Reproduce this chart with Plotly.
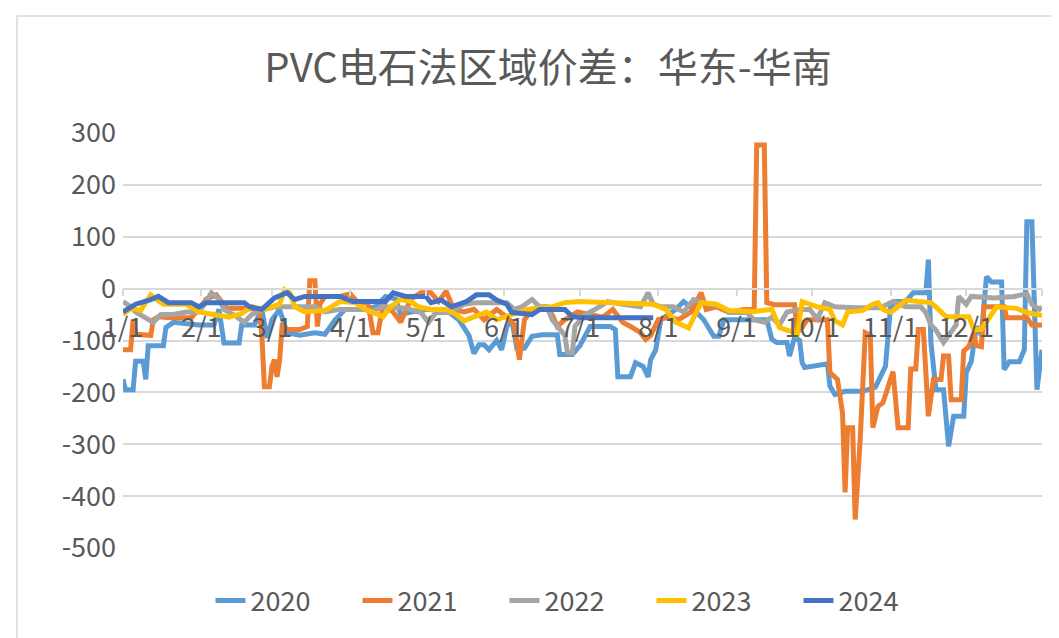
import datetime as dt
import plotly.graph_objects as go

# ---------------- data (day offset from Jan 1, value) ----------------
days_2020 = [0,1,4,5,8,9,10,16,17,20,30,36,38,40,46,47,52,55,57,59,62,65,70,76,80,84,88,96,100,104,108,110,114,121,129,133,137,139,141,143,145,148,150,152,154,156,159,162,166,172,173,178,181,185,193,195,196,201,203,206,208,209,211,213,219,222,226,230,234,236,238,255,257,259,263,264,266,268,269,270,279,280,282,286,293,298,302,304,306,310,313,318,319,320,322,325,327,329,333,334,336,338,340,342,344,348,349,351,355,357,358,360,362,364]
vals_2020 = [-175,-195,-195,-140,-140,-175,-110,-110,-75,-65,-70,-70,-40,-105,-105,-70,-70,-40,-95,-60,-40,-85,-90,-85,-88,-60,-40,-40,-35,-15,-20,-50,-45,-40,-45,-60,-90,-125,-108,-108,-118,-100,-118,-73,-60,-115,-115,-92,-89,-89,-127,-127,-110,-73,-73,-79,-170,-170,-143,-150,-170,-137,-118,-60,-40,-25,-40,-60,-92,-92,-60,-60,-98,-104,-104,-130,-94,-100,-143,-152,-145,-188,-204,-198,-198,-190,-150,-35,-25,-25,-8,-8,56,-104,-195,-195,-304,-246,-246,-162,-140,-73,-90,23,13,13,-156,-141,-141,-118,129,129,-195,-118]

days_2021 = [0,3,4,5,11,12,14,19,27,30,33,37,39,41,48,54,55,56,58,59,60,61,62,63,65,70,73,74,76,77,78,80,86,90,93,97,99,101,103,107,110,114,118,122,125,128,131,135,139,143,148,152,155,157,159,162,167,170,172,175,180,185,190,194,198,201,205,207,209,212,216,220,225,229,231,235,240,246,250,251,254,255,258,266,267,269,271,279,280,283,285,286,287,289,290,292,294,296,297,299,301,305,307,311,312,314,315,317,319,321,324,325,327,328,332,333,335,337,338,340,341,349,350,358,360,364]
vals_2021 = [-118,-118,-60,-88,-90,-60,-54,-56,-56,-40,-20,-12,-25,-38,-38,-40,-90,-189,-189,-150,-137,-170,-140,-73,-79,-79,-73,15,15,-73,-30,-15,-15,-10,-27,-27,-85,-85,-30,-45,-65,-20,-8,-8,-25,-5,-40,-45,-40,-60,-40,-55,-70,-137,-60,-40,-35,-50,-73,-60,-45,-50,-55,-40,-65,-73,-85,-98,-90,-60,-55,-60,-45,-8,-40,-35,-46,-40,-40,277,277,-27,-31,-31,-85,-75,-60,-60,-162,-175,-240,-393,-268,-268,-445,-290,-85,-90,-268,-227,-220,-160,-268,-268,-155,-155,-79,-79,-246,-175,-175,-130,-130,-214,-214,-120,-112,-85,-110,-112,-35,-35,-56,-56,-70,-70]

days_2022 = [0,3,5,8,12,15,20,25,30,33,35,38,40,45,48,51,56,60,65,70,76,80,86,96,98,103,112,118,121,124,130,135,140,152,155,158,162,165,168,170,175,176,178,179,183,187,192,198,205,208,210,213,218,222,226,232,237,240,247,250,254,257,260,263,268,272,275,278,282,290,300,305,310,316,318,320,322,325,327,330,331,334,336,345,353,358,360,363,364]
vals_2022 = [-25,-35,-45,-54,-65,-50,-50,-45,-45,-25,-8,-20,-40,-54,-65,-50,-40,-35,-35,-35,-35,-45,-40,-40,-45,-35,-38,-46,-65,-46,-46,-30,-27,-27,-40,-35,-21,-35,-35,-60,-90,-123,-123,-73,-50,-40,-25,-30,-35,-8,-30,-35,-35,-45,-21,-30,-35,-46,-46,-60,-65,-55,-70,-45,-40,-40,-58,-27,-35,-37,-37,-25,-35,-35,-46,-70,-80,-104,-90,-70,-15,-30,-15,-18,-15,-10,-30,-40,-35]

days_2023 = [0,3,7,11,13,16,25,30,36,42,47,51,56,62,64,66,68,72,80,86,92,96,103,106,110,114,117,122,128,132,135,139,144,148,152,160,170,175,181,190,200,210,215,219,224,229,235,240,250,257,260,266,267,269,275,280,282,285,287,293,297,299,301,304,307,310,315,320,323,326,335,337,340,342,346,354,358,364]
vals_2023 = [-50,-38,-42,-12,-20,-30,-30,-45,-50,-55,-48,-35,-40,-30,-2,-8,-35,-45,-42,-25,-27,-40,-54,-35,-21,-25,-35,-40,-40,-50,-62,-55,-45,-60,-54,-40,-35,-27,-25,-27,-30,-30,-40,-65,-76,-27,-30,-42,-44,-40,-75,-85,-92,-25,-35,-40,-62,-70,-45,-42,-30,-27,-40,-46,-35,-22,-25,-27,-40,-54,-54,-79,-79,-65,-35,-38,-46,-52]

days_2024 = [0,5,11,14,18,27,30,33,48,50,55,58,60,65,68,72,80,86,91,104,107,112,120,122,126,130,136,140,145,148,152,154,162,165,170,175,178,182,195,205,210]
vals_2024 = [-45,-30,-21,-15,-27,-27,-35,-27,-27,-35,-40,-27,-18,-8,-21,-15,-15,-15,-25,-25,-8,-15,-15,-27,-22,-35,-25,-12,-12,-22,-30,-46,-50,-40,-40,-40,-54,-56,-56,-56,-56]

series_names = ["2020", "2021", "2022", "2023", "2024"]
series_days = [days_2020, days_2021, days_2022, days_2023, days_2024]
series_vals = [vals_2020, vals_2021, vals_2022, vals_2023, vals_2024]
colors = ["#5B9BD5", "#ED7D31", "#A5A5A5", "#FFC000", "#4472C4"]

month_labels = ["1/1", "2/1", "3/1", "4/1", "5/1", "6/1", "7/1", "8/1", "9/1", "10/1", "11/1", "12/1"]
y_ticks = [300, 200, 100, 0, -100, -200, -300, -400, -500]

title_text = "PVC电石法区域价差：华东-华南"

# ---------------- figure ----------------
OFF = 8  # page body margin
W, H = 1059 - OFF, 638 - OFF
L, R, T, B = 123 - OFF, 1042 - OFF, 133 - OFF, 548 - OFF  # plot area in figure px
base = dt.date(2021, 1, 1)

def to_dates(ds):
    return [base + dt.timedelta(days=int(d)) for d in ds]

FONT = "Noto Sans CJK SC"
GRAY_TXT = "#595959"
GRID = "#D9D9D9"
FS = 27

fig = go.Figure()
for name, ds, vs, c in zip(series_names, series_days, series_vals, colors):
    fig.add_trace(go.Scatter(
        x=to_dates(ds), y=vs, name=name, mode="lines",
        line=dict(color=c, width=5),
    ))

tickvals = [dt.date(2021, m, 1) for m in range(1, 13)] + [dt.date(2021, 12, 31)]
ticktext = month_labels + [""]

ymin, ymax = -500, 300
zero_pos = (0 - ymin) / (ymax - ymin)

def px_x(p):  # screen px -> paper
    return (p - OFF - L) / (R - L)

def px_y(p):
    return (B - (p - OFF)) / (B - T)

fig.update_layout(
    width=W, height=H,
    paper_bgcolor="white", plot_bgcolor="white",
    margin=dict(l=L, r=W - R, t=T, b=H - B, autoexpand=False),
    font=dict(family=FONT, color=GRAY_TXT),
    title=dict(text=title_text, x=(548 - OFF) / W, xanchor="center",
               y=1 - (68 - OFF) / H, yanchor="middle",
               font=dict(family=FONT, size=40, color=GRAY_TXT)),
    xaxis=dict(
        type="date", range=[dt.date(2021, 1, 1), dt.date(2021, 12, 31)],
        tickvals=tickvals, ticktext=ticktext, tickangle=0,
        anchor="free", position=zero_pos,
        showline=True, linecolor=GRID, linewidth=1.5,
        ticks="outside", ticklen=7, tickcolor=GRID, tickwidth=1.5,
        ticklabelstandoff=8,
        showgrid=False, zeroline=False,
        tickfont=dict(family=FONT, size=FS, color=GRAY_TXT),
    ),
    yaxis=dict(
        range=[ymin, ymax], tickvals=y_ticks, ticktext=[str(v) for v in y_ticks],
        showgrid=True, gridcolor=GRID, gridwidth=1.5,
        zeroline=False, showline=False, ticks="",
        tickfont=dict(family=FONT, size=FS, color=GRAY_TXT),
        ticklabelstandoff=6,
    ),
    legend=dict(
        orientation="h", xref="container", x=(578 - OFF) / W, xanchor="center",
        yref="container", y=1 - (601 - OFF) / H, yanchor="middle",
        font=dict(family=FONT, size=FS, color=GRAY_TXT),
        bgcolor="rgba(0,0,0,0)",
        entrywidth=102, entrywidthmode="pixels",
    ),
    showlegend=True,
)

# chart frame and top black rule
fig.add_shape(type="rect", xref="paper", yref="paper",
              x0=px_x(17), y0=px_y(700), x1=px_x(1100), y1=px_y(16),
              line=dict(color=GRID, width=1.5), fillcolor="rgba(0,0,0,0)", layer="below")
fig.add_shape(type="line", xref="paper", yref="paper",
              x0=px_x(8), y0=px_y(6), x1=px_x(1070), y1=px_y(6),
              line=dict(color="black", width=3))

fig.write_html("out.html")
